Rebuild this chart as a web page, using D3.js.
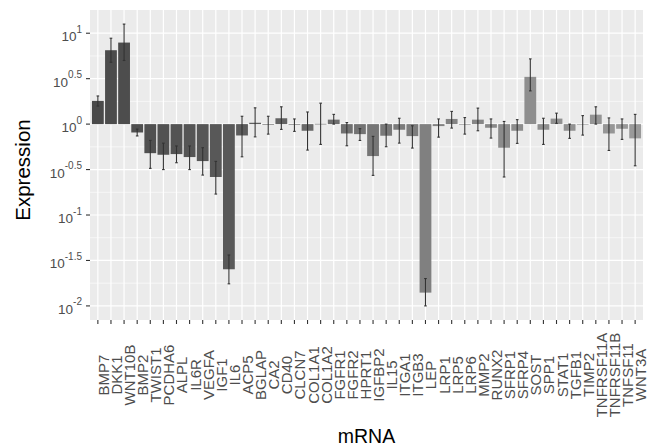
<!DOCTYPE html>
<html>
<head>
<meta charset="utf-8">
<script src="https://cdn.jsdelivr.net/npm/d3@7"></script>
<style>
  body { margin: 0; background: #fff; }
  text { font-family: "Liberation Sans", Arial, Helvetica, sans-serif; }
</style>
</head>
<body>
<div id="chart"></div>
<script>
// mRNA names, in plot order
const genes = ["BMP7", "DKK1", "WNT10B", "BMP2", "TWIST1", "PCDHA6", "ALPL", "IL6R", "VEGFA", "IGF1",
  "IL6", "ACP5", "BGLAP", "CA2", "CD40", "CLCN7", "COL1A1", "COL1A2", "FGFR1", "FGFR2",
  "HPRT1", "IGFBP2", "IL15", "ITGA1", "ITGB3", "LEP", "LRP1", "LRP5", "LRP6", "MMP2",
  "RUNX2", "SFRP1", "SFRP4", "SOST", "SPP1", "STAT1", "TGFB1", "TIMP2", "TNFRSF11A", "TNFRSF11B",
  "TNFSF11", "WNT3A"];

// relative expression (fold change) and error bar ends
const expression = [1.80, 6.50, 7.89, 0.809, 0.479, 0.460, 0.468, 0.434, 0.392, 0.262,
  0.0253, 0.750, 1.035, 1.00, 1.16, 0.993, 0.845, 1.007, 1.12, 0.789,
  0.776, 0.445, 0.745, 0.867, 0.738, 0.0140, 0.951, 1.14, 0.989, 1.12,
  0.912, 0.550, 0.845, 3.31, 0.867, 1.15, 0.845, 1.00, 1.27, 0.789,
  0.889, 0.697];
const errLow = [1.58, 4.79, 5.01, 0.741, 0.326, 0.316, 0.376, 0.316, 0.275, 0.170,
  0.0175, 0.437, 0.724, 0.776, 0.875, 0.832, 0.518, 0.598, 1.00, 0.578,
  0.661, 0.273, 0.564, 0.618, 0.545, 0.0100, 0.719, 0.904, 0.776, 0.845,
  0.702, 0.262, 0.614, 2.32, 0.598, 1.02, 0.697, 0.757, 1.00, 0.513,
  0.679, 0.348];
const errHigh = [2.04, 8.81, 12.6, 0.881, 0.661, 0.617, 0.575, 0.575, 0.550, 0.389,
  0.0363, 1.22, 1.51, 1.22, 1.55, 1.14, 1.36, 1.70, 1.28, 1.04,
  0.891, 0.733, 1.00, 1.16, 0.959, 0.0200, 1.14, 1.38, 1.18, 1.50,
  1.14, 1.07, 1.12, 5.22, 1.16, 1.32, 1.00, 1.24, 1.55, 1.17,
  1.14, 1.28];

// y ticks as log10 exponents
const yTickExp = [-2, -1.5, -1, -0.5, 0, 0.5, 1];

const width = 649, height = 447;
const margin = {top: 10, right: 6, bottom: 127, left: 90};
const panelW = width - margin.left - margin.right;
const panelH = height - margin.top - margin.bottom;

const svg = d3.select("#chart").append("svg")
  .attr("width", width).attr("height", height);

const g = svg.append("g").attr("transform", `translate(${margin.left},${margin.top})`);

const x = d3.scaleBand().domain(genes).range([0, panelW])
  .paddingInner(0.1).paddingOuter(0.15);

// ggplot-like 5% expansion of the log range
const lo = Math.log10(d3.min(errLow)), hi = Math.log10(d3.max(errHigh));
const pad = (hi - lo) * 0.05;
const y = d3.scaleLog().domain([Math.pow(10, lo - pad), Math.pow(10, hi + pad)]).range([panelH, 0]);

// bar fill gets lighter along the list
const fill = d3.scaleLinear().domain([0, 10, 25, 33, 41])
  .range(["#4a4a4a", "#595959", "#808080", "#8e8e8e", "#999999"]);

// panel
g.append("rect").attr("width", panelW).attr("height", panelH).attr("fill", "#ebebeb");

// minor grid
const minor = [-1.75, -1.25, -0.75, -0.25, 0.25, 0.75].map(e => Math.pow(10, e));
g.selectAll(".minor").data(minor).join("line")
  .attr("x1", 0).attr("x2", panelW)
  .attr("y1", d => y(d)).attr("y2", d => y(d))
  .attr("stroke", "#fff").attr("stroke-width", 0.6);

// major grid
g.selectAll(".major").data(yTickExp).join("line")
  .attr("x1", 0).attr("x2", panelW)
  .attr("y1", d => y(Math.pow(10, d))).attr("y2", d => y(Math.pow(10, d)))
  .attr("stroke", "#fff").attr("stroke-width", 1.2);

g.selectAll(".vgrid").data(genes).join("line")
  .attr("x1", d => x(d) + x.bandwidth() / 2).attr("x2", d => x(d) + x.bandwidth() / 2)
  .attr("y1", 0).attr("y2", panelH)
  .attr("stroke", "#fff").attr("stroke-width", 1.2);

// bars from 10^0
g.selectAll(".bar").data(genes).join("rect")
  .attr("x", d => x(d))
  .attr("width", x.bandwidth())
  .attr("y", (d, i) => Math.min(y(expression[i]), y(1)))
  .attr("height", (d, i) => Math.max(0.6, Math.abs(y(expression[i]) - y(1))))
  .attr("fill", (d, i) => fill(i));

// error bars
const capW = x.step() * 0.2;
const eb = g.selectAll(".eb").data(genes).join("g")
  .attr("transform", d => `translate(${x(d) + x.bandwidth() / 2},0)`)
  .attr("stroke", "#333").attr("stroke-width", 1.1);
eb.append("line").attr("y1", (d, i) => y(errLow[i])).attr("y2", (d, i) => y(errHigh[i]));
eb.append("line").attr("x1", -capW / 2).attr("x2", capW / 2)
  .attr("y1", (d, i) => y(errLow[i])).attr("y2", (d, i) => y(errLow[i]));
eb.append("line").attr("x1", -capW / 2).attr("x2", capW / 2)
  .attr("y1", (d, i) => y(errHigh[i])).attr("y2", (d, i) => y(errHigh[i]));

// y axis ticks and labels
const yAxis = g.append("g");
yAxis.selectAll("line").data(yTickExp).join("line")
  .attr("x1", -4).attr("x2", 0)
  .attr("y1", d => y(Math.pow(10, d))).attr("y2", d => y(Math.pow(10, d)))
  .attr("stroke", "#333").attr("stroke-width", 1.1);
const yLab = yAxis.selectAll("text").data(yTickExp).join("text")
  .attr("x", -8).attr("y", d => y(Math.pow(10, d)) + 8)
  .attr("text-anchor", "end").attr("fill", "#4d4d4d").attr("font-size", 13.5);
yLab.append("tspan").text("10");
yLab.append("tspan").attr("dy", -8.5).attr("font-size", 10).text(d => d);

// x axis ticks and labels
const xAxis = g.append("g").attr("transform", `translate(0,${panelH})`);
xAxis.selectAll("line").data(genes).join("line")
  .attr("x1", d => x(d) + x.bandwidth() / 2).attr("x2", d => x(d) + x.bandwidth() / 2)
  .attr("y1", 0).attr("y2", 4)
  .attr("stroke", "#333").attr("stroke-width", 1.1);
xAxis.selectAll("text").data(genes).join("text")
  .attr("transform", d => `translate(${x(d) + x.bandwidth() / 2 + 11},55) rotate(-90)`)
  .attr("text-anchor", "middle").attr("fill", "#4d4d4d").attr("font-size", 15)
  .text(d => d);

// axis titles
svg.append("text")
  .attr("x", margin.left + panelW / 2).attr("y", 443)
  .attr("text-anchor", "middle").attr("font-size", 19.5).attr("fill", "#000")
  .text("mRNA");
svg.append("text")
  .attr("transform", `translate(30,170) rotate(-90)`)
  .attr("text-anchor", "middle").attr("font-size", 20.5).attr("fill", "#000")
  .text("Expression");
</script>
</body>
</html>
